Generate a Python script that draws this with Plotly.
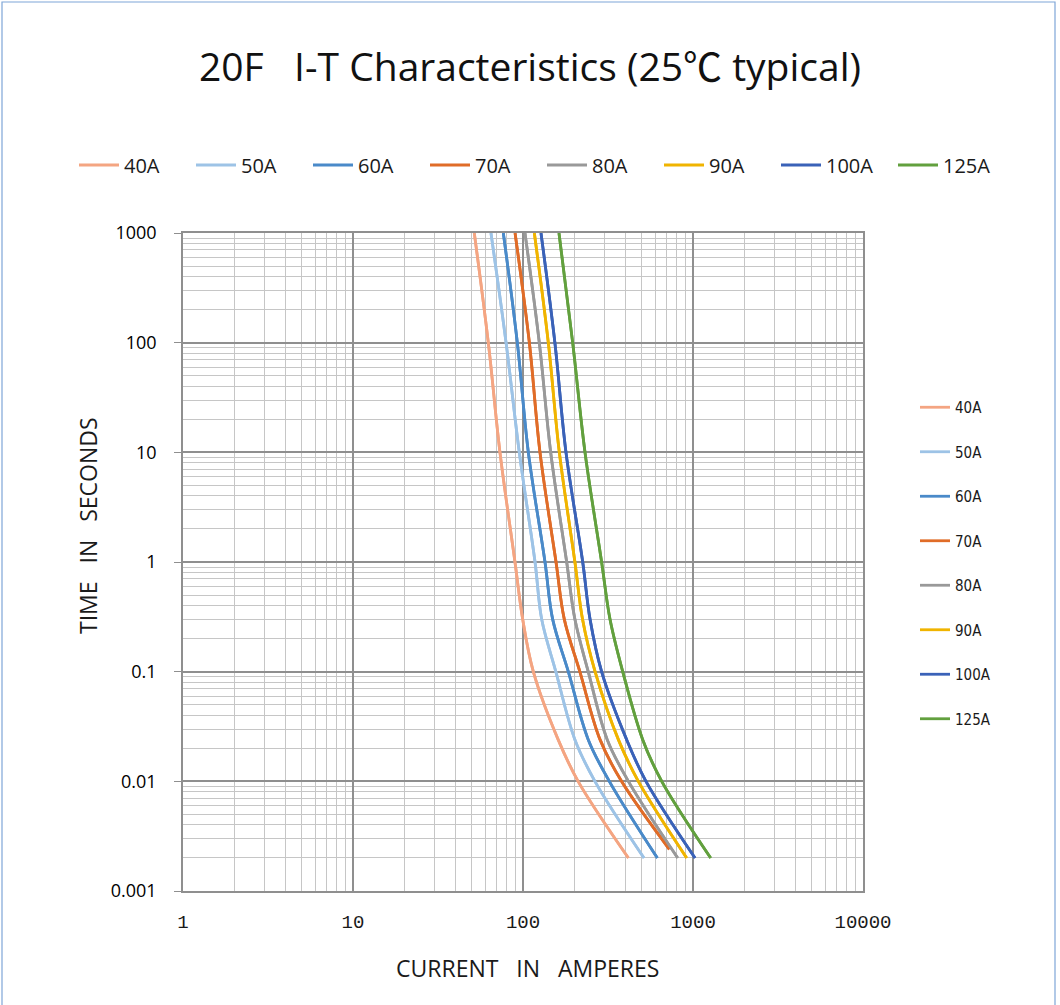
import plotly.graph_objects as go

# ---- data ----
series_names = ["40A", "50A", "60A", "70A", "80A", "90A", "100A", "125A"]
colors = ["#F4A582", "#9DC3E6", "#4A8AC9", "#E06C28", "#999999", "#F0B400", "#3A62B8", "#62A03E"]

time_common = [1000, 100, 10, 1, 0.3, 0.1, 0.024, 0.01, 0.002]
time_70A = [1000, 100, 10, 1, 0.3, 0.1, 0.024, 0.01, 0.0024]

cur_40A = [51.7, 62.5, 73.2, 89.7, 99.6, 115, 161, 211, 417]
cur_50A = [64.8, 79.5, 95.1, 117.7, 128.8, 156, 202, 265, 515]
cur_60A = [76.6, 92.6, 107.5, 134.7, 149.5, 184.8, 242, 322, 617]
cur_70A = [89.8, 109, 125.9, 156.4, 175, 216, 284, 380, 726]
cur_80A = [102.7, 124.7, 145.5, 180.7, 202, 242, 313, 417, 813]
cur_90A = [116.6, 140.9, 163.6, 202, 224, 265.5, 364, 477, 918]
cur_100A = [127.6, 154, 179, 224.5, 248, 290, 407, 529, 1028]
cur_125A = [162.8, 196, 231.6, 290, 325, 386, 506, 655, 1271]

currents = [cur_40A, cur_50A, cur_60A, cur_70A, cur_80A, cur_90A, cur_100A, cur_125A]
times = [time_common, time_common, time_common, time_70A, time_common, time_common, time_common, time_common]

x_ticks = [1, 10, 100, 1000, 10000]
x_ticktext = ["1", "10", "100", "1000", "10000"]
y_ticks = [0.001, 0.01, 0.1, 1, 10, 100, 1000]
y_ticktext = ["0.001", "0.01", "0.1", "1", "10", "100", "1000"]

title_text = "20F   I-T Characteristics (25℃ typical)"
x_title = "CURRENT   IN   AMPERES"
y_title = "TIME   IN   SECONDS"


def minor_vals(lo_exp, hi_exp):
    vals = []
    for e in range(lo_exp, hi_exp):
        for m in range(2, 10):
            vals.append(m * 10 ** e)
    return vals


fig = go.Figure()
# top legend is split into two halves (legend, legend3) so it stays on one row
for i, (name, col, xs, ts) in enumerate(zip(series_names, colors, currents, times)):
    fig.add_trace(go.Scatter(x=xs, y=ts, mode="lines", name=name,
                             line=dict(color=col, width=2.8, shape="spline", smoothing=1.0),
                             legend="legend" if i < 4 else "legend3"))
for name, col, xs, ts in zip(series_names, colors, currents, times):
    fig.add_trace(go.Scatter(x=xs, y=ts, mode="lines", name=name,
                             line=dict(color=col, width=2.8, shape="spline", smoothing=1.0),
                             legend="legend2", legendgroup="r" + name, hoverinfo="skip"))

L, R, T, B = 183, 863, 233, 891
W, H = 1060, 1005
pw, ph = R - L, B - T


def px(xp):
    return (xp - L) / pw


def py(yp):
    return 1 - (yp - T) / ph


top_legend_style = dict(orientation="h", xref="container", yref="container",
                        xanchor="left", y=1 - 165 / H, yanchor="middle",
                        font=dict(family="Open Sans", size=20, color="#1a1a1a"),
                        itemwidth=40, entrywidth=62, entrywidthmode="pixels",
                        bgcolor="rgba(0,0,0,0)", traceorder="normal")

fig.update_layout(
    width=W, height=H,
    margin=dict(l=L, r=W - R, t=T, b=H - B),
    paper_bgcolor="white", plot_bgcolor="white",
    legend=dict(x=74 / W, **top_legend_style),
    legend3=dict(x=542 / W, **top_legend_style),
    legend2=dict(orientation="v", x=px(915), xanchor="left", y=py(391), yanchor="top",
                 font=dict(family="Liberation Sans Narrow, DejaVu Sans Condensed", size=15, color="#1a1a1a"),
                 tracegroupgap=22, bgcolor="rgba(0,0,0,0)"),
    showlegend=True,
)

fig.add_annotation(text=title_text, xref="paper", yref="paper", x=px(530), y=py(65),
                   xanchor="center", yanchor="middle", showarrow=False,
                   font=dict(family="Open Sans, Noto Sans CJK SC", size=39, color="#111111"))
fig.add_annotation(text=x_title, xref="paper", yref="paper", x=px(527), y=py(968),
                   xanchor="center", yanchor="middle", showarrow=False,
                   font=dict(family="Open Sans", size=23, color="#1a1a1a"))
fig.add_annotation(text=y_title, xref="paper", yref="paper", x=px(88), y=py(526),
                   xanchor="center", yanchor="middle", showarrow=False, textangle=-90,
                   font=dict(family="Open Sans", size=23, color="#1a1a1a"))

fig.update_xaxes(
    type="log", range=[0, 4],
    tickvals=x_ticks, ticktext=x_ticktext,
    tickfont=dict(family="Liberation Mono", size=19, color="#1a1a1a"),
    ticks="", ticklabelstandoff=12,
    showgrid=True, gridcolor="#8f8f8f", gridwidth=1.6,
    showline=True, linecolor="#8f8f8f", linewidth=1.6, mirror=True,
    zeroline=False,
    minor=dict(tickmode="array", tickvals=minor_vals(0, 4), showgrid=True,
               gridcolor="#c6c6c6", gridwidth=1.3, ticks=""),
)
fig.update_yaxes(
    type="log", range=[-3, 3],
    tickvals=y_ticks, ticktext=y_ticktext,
    tickfont=dict(family="Open Sans", size=18, color="#000000"),
    ticks="outside", ticklen=7, tickcolor="#8f8f8f", tickwidth=1.4,
    ticklabelstandoff=14,
    showgrid=True, gridcolor="#8f8f8f", gridwidth=1.6,
    showline=True, linecolor="#8f8f8f", linewidth=1.6, mirror=True,
    zeroline=False,
    minor=dict(tickmode="array", tickvals=minor_vals(-3, 3), showgrid=True,
               gridcolor="#c6c6c6", gridwidth=1.3, ticks=""),
)

# outer thin blue border of the chart area
fig.add_shape(type="rect", xref="paper", yref="paper",
              x0=px(2), x1=px(1055), y0=py(1010), y1=py(2),
              line=dict(color="#7FA6D8", width=1.2), fillcolor="rgba(0,0,0,0)", layer="above")

fig.write_html("out.html", config={"displayModeBar": False},
               post_script="document.body.style.margin='0';")
